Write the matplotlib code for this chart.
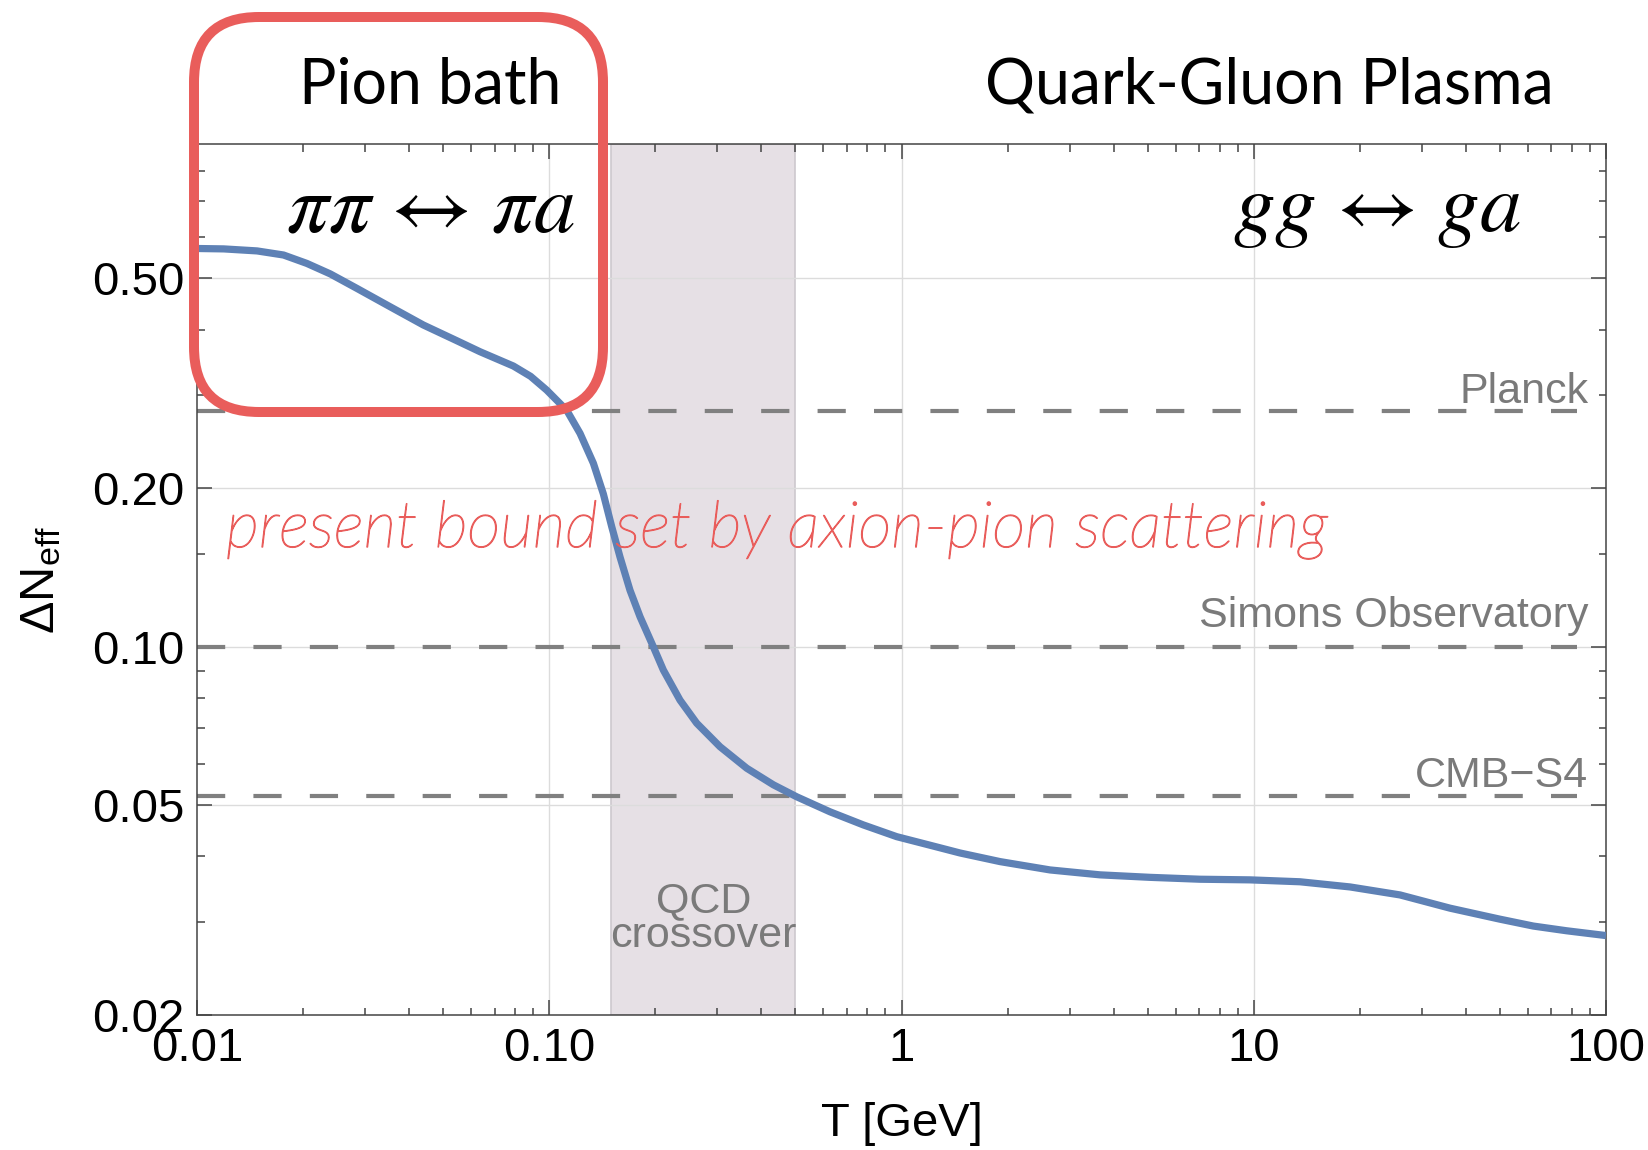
import matplotlib
matplotlib.use('Agg')
import matplotlib.pyplot as plt
import matplotlib.patheffects as pe
from matplotlib.patches import FancyBboxPatch
from matplotlib.transforms import IdentityTransform
from matplotlib.ticker import FixedLocator, NullFormatter, LogLocator

plt.rcParams['font.family'] = ['Liberation Sans', 'DejaVu Sans']
plt.rcParams['mathtext.fontset'] = 'stix'

# Delta N_eff vs temperature
T_GeV = [0.0100, 0.0119, 0.0148, 0.0176, 0.0205, 0.0239, 0.0284, 0.0353, 0.0439,
         0.0546, 0.0636, 0.0791, 0.0885, 0.0983, 0.1121, 0.1223, 0.1334, 0.1424, 0.1504,
         0.1588, 0.1695, 0.1810, 0.1974, 0.2108, 0.2350, 0.2621, 0.3053, 0.3636,
         0.4326, 0.5041, 0.6268, 0.7790, 0.9692, 1.205, 1.466, 1.904, 2.641, 3.660,
         5.076, 7.038, 9.759, 13.53, 18.77, 26.02, 36.07, 50.0, 62.2, 77.3, 100.0]
dNeff = [0.570, 0.569, 0.564, 0.554, 0.534, 0.510, 0.479, 0.442, 0.408,
         0.381, 0.363, 0.341, 0.326, 0.307, 0.281, 0.254, 0.223, 0.195, 0.169,
         0.148, 0.128, 0.114, 0.100, 0.0903, 0.0792, 0.0716, 0.0646, 0.0588,
         0.0547, 0.0519, 0.0486, 0.0459, 0.0436, 0.0420, 0.0406, 0.0391, 0.0377, 0.0369,
         0.0365, 0.0362, 0.0361, 0.0358, 0.0350, 0.0338, 0.0319, 0.0304, 0.0295, 0.0289, 0.0283]

# CMB sensitivities
exp_names = ['Planck', 'Simons Observatory', 'CMB\u2212S4']
exp_values = [0.28, 0.10, 0.052]
exp_T_range = [0.01, 83.0]

qcd_band = [0.15, 0.5]

x_major = [0.01, 0.1, 1, 10, 100]
x_major_labels = ['0.01', '0.10', '1', '10', '100']
y_major = [0.02, 0.05, 0.1, 0.2, 0.5]
y_major_labels = ['0.02', '0.05', '0.10', '0.20', '0.50']
y_minor = [0.03, 0.04, 0.06, 0.07, 0.08, 0.09, 0.15, 0.3, 0.4, 0.6, 0.7, 0.8]

gray = '#7a7a7a'
red = '#e95d5b'
frame = '#444444'

fig = plt.figure(figsize=(16.49, 11.5), dpi=100)
ax = fig.add_axes([0.1195, 0.1174, 0.8544, 0.7574])
ax.set_xscale('log')
ax.set_yscale('log')
ax.set_xlim(0.01, 100)
ax.set_ylim(0.02, 0.9)

# QCD crossover band
ax.axvspan(qcd_band[0], qcd_band[1], facecolor='#e6e0e5', edgecolor='#cdc8ce', lw=1.2, zorder=0)
ax.text((qcd_band[0] * qcd_band[1]) ** 0.5, 0.0305, 'QCD\ncrossover', color=gray,
        fontsize=31, ha='center', va='center', linespacing=0.85, zorder=1)

# grid
for x in [0.1, 1, 10]:
    ax.axvline(x, color='#dcdcdc', lw=1.0, zorder=0.5)
for y in [0.05, 0.1, 0.2, 0.5]:
    ax.axhline(y, color='#dcdcdc', lw=1.0, zorder=0.5)

# experiment lines
offs = [6, 14, 7]
for name, val, off in zip(exp_names, exp_values, offs):
    ax.plot(exp_T_range, [val, val], color='#808080', lw=3.0, ls=(0, (6.77, 6.77)), zorder=2)
    ax.annotate(name, xy=(89, val), xytext=(0, off), textcoords='offset points',
                ha='right', va='baseline', color=gray, fontsize=31, zorder=3)

ax.plot(T_GeV, dNeff, color='#5e81b5', lw=5.2, zorder=4, solid_capstyle='butt',
        solid_joinstyle='round')

# ticks
ax.xaxis.set_major_locator(FixedLocator(x_major))
ax.set_xticklabels(x_major_labels)
ax.xaxis.set_minor_locator(LogLocator(base=10, subs=range(2, 10)))
ax.xaxis.set_minor_formatter(NullFormatter())
ax.yaxis.set_major_locator(FixedLocator(y_major))
ax.set_yticklabels(y_major_labels)
ax.yaxis.set_minor_locator(FixedLocator(y_minor))
ax.yaxis.set_minor_formatter(NullFormatter())
ax.tick_params(which='both', direction='in', top=True, right=True, color=frame, width=1.1,
               labelsize=34, pad=9)
ax.tick_params(which='major', length=10.8)
ax.tick_params(which='minor', length=5.4)
for s in ax.spines.values():
    s.set_color(frame)
    s.set_linewidth(1.1)

ax.set_xlabel('T [GeV]', fontsize=34)
ax.xaxis.set_label_coords(0.5, -0.10)
ax.set_ylabel('\u0394N$_\\mathregular{eff}$', fontsize=35)
ax.yaxis.set_label_coords(-0.094, 0.5)

# headers
fig.text(0.2608, 0.9104, 'Pion bath', family=['Lato', 'DejaVu Sans'], fontsize=45,
         ha='center', va='baseline')
fig.text(0.7696, 0.9104, 'Quark-Gluon Plasma', family=['Lato', 'DejaVu Sans'], fontsize=45,
         ha='center', va='baseline')
fig.text(0.2608, 0.7991, r'$\pi\pi\,\leftrightarrow\,\pi a$', fontsize=60, ha='center', va='baseline')
fig.text(0.835, 0.7991, r'$gg\,\leftrightarrow\,ga$', fontsize=60, ha='center', va='baseline')

fig.text(0.1371, 0.5243, 'present bound set by axion-pion scattering', family=['Lato', 'DejaVu Sans'],
         style='italic', weight='light', fontsize=46.5, color=red, ha='left', va='baseline', zorder=5,
         path_effects=[pe.withStroke(linewidth=0.9, foreground=red)])

# hand-drawn style box around the pion bath region (pixel coords)
box = FancyBboxPatch((194, 1150 - 412), 409, 395, boxstyle='round,pad=0,rounding_size=65',
                     transform=IdentityTransform(), facecolor='none', edgecolor=red, lw=7.2,
                     zorder=10)
fig.add_artist(box)

fig.savefig('out.png', dpi=100)
